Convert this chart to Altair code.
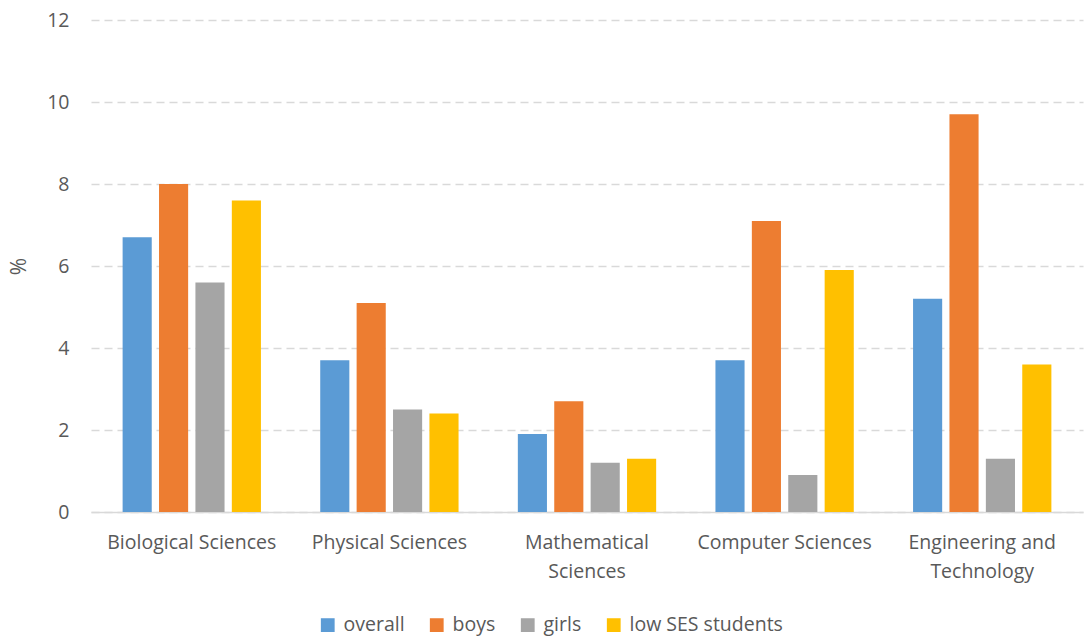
import altair as alt
import pandas as pd

categories = ["Biological Sciences", "Physical Sciences", "Mathematical Sciences",
              "Computer Sciences", "Engineering and Technology"]
series = ["overall", "boys", "girls", "low SES students"]
overall = [6.7, 3.7, 1.9, 3.7, 5.2]
boys = [8.0, 5.1, 2.7, 7.1, 9.7]
girls = [5.6, 2.5, 1.2, 0.9, 1.3]
low_ses = [7.6, 2.4, 1.3, 5.9, 3.6]
colors = ["#5B9BD5", "#ED7D31", "#A5A5A5", "#FFC000"]

rows = []
for name, vals in zip(series, [overall, boys, girls, low_ses]):
    for c, v in zip(categories, vals):
        rows.append({"category": c, "series": name, "value": v})
df = pd.DataFrame(rows)

font = "Open Sans"
txt = "#595959"

label_expr = ("datum.value == 'Mathematical Sciences' ? ['Mathematical', 'Sciences'] : "
              "datum.value == 'Engineering and Technology' ? ['Engineering and', 'Technology'] : datum.value")

chart = alt.Chart(df).mark_bar().encode(
    x=alt.X("category:N", sort=categories,
            scale=alt.Scale(paddingInner=0.3, paddingOuter=0.16),
            axis=alt.Axis(title=None, labelAngle=0, labelExpr=label_expr, labelFont=font,
                          labelFontSize=19.5, labelColor=txt, labelPadding=21, labelLineHeight=29,
                          ticks=False, domainColor="#d9d9d9", domainWidth=1.5, labelLimit=300)),
    xOffset=alt.XOffset("series:N", sort=series, scale=alt.Scale(paddingInner=0.2)),
    y=alt.Y("value:Q", scale=alt.Scale(domain=[0, 12]),
            axis=alt.Axis(title="%", values=[0, 2, 4, 6, 8, 10, 12], titleFont=font,
                          titleFontSize=21, titleFontWeight="normal", titleColor=txt,
                          titleAngle=-90, titleX=-62, titleY=246, titleBaseline="bottom",
                          labelFont=font, labelFontSize=19.5, labelColor=txt, labelPadding=22,
                          ticks=False, domain=False, gridColor="#d9d9d9", gridDash=[8, 5],
                          gridWidth=1.5)),
    color=alt.Color("series:N", sort=series,
                    scale=alt.Scale(domain=series, range=colors),
                    legend=alt.Legend(title=None, orient="none", direction="horizontal",
                                      legendX=227, legendY=595, symbolType="square",
                                      symbolSize=190, symbolStrokeWidth=0, labelFont=font,
                                      labelFontSize=19.5, labelColor=txt, columnPadding=22,
                                      labelOffset=6, symbolOpacity=1)),
).properties(
    width=992, height=492,
    background="white",
    autosize=alt.AutoSizeParams(type="none"),
    padding={"left": 91, "top": 20, "right": 3, "bottom": 124},
).configure_view(strokeWidth=0, stroke=None)

chart.save("out.html", embed_options={"renderer": "svg", "actions": False})
